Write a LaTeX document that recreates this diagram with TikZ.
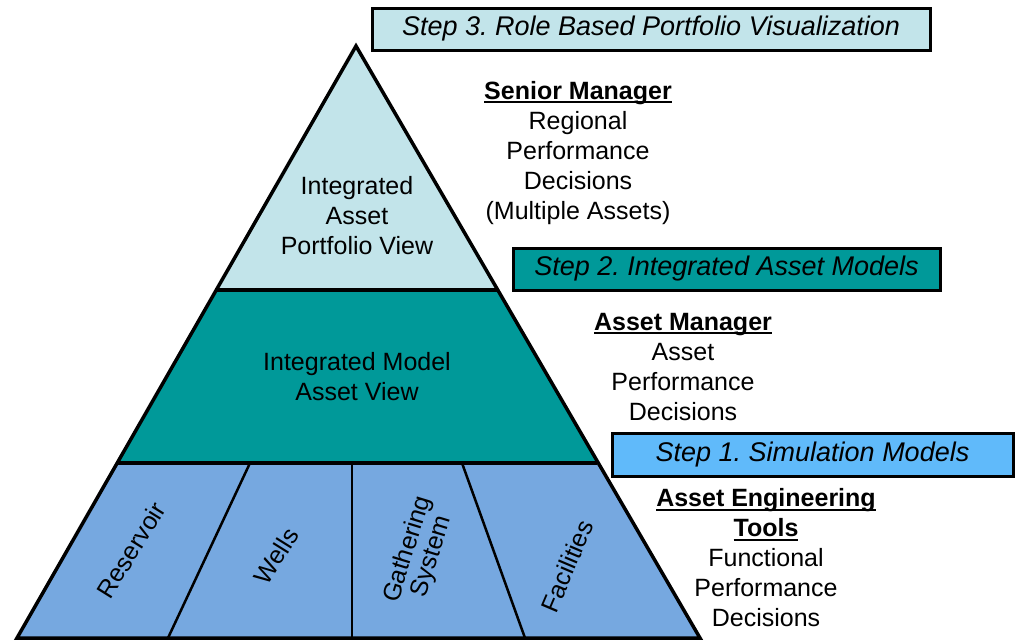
\documentclass[tikz,border=0pt]{standalone}
\usepackage{fontspec}
\setmainfont{Liberation Sans}
\frenchspacing
\definecolor{paleCyan}{RGB}{194,228,234}
\definecolor{tealBand}{RGB}{0,153,153}
\definecolor{toolBlue}{RGB}{118,168,224}
\definecolor{skyBlue}{RGB}{96,186,250}
% bold heading with a thick underline
\newcommand\headul[1]{\setbox0\hbox{\bfseries #1}\rlap{\rule[-4pt]{\wd0}{2pt}}\box0}
\begin{document}
\begin{tikzpicture}[x=1pt,y=-1pt,
  outline/.style={draw=black, line width=3.5pt, line join=miter},
  divider/.style={draw=black, line width=2.5pt},
  stepbox/.style={draw=black, line width=3pt, inner sep=0pt, anchor=center,
    font=\fontsize{27}{30}\selectfont\itshape},
  txt/.style={font=\fontsize{25}{30}\selectfont, align=center, inner sep=0pt},
  slanted/.style={font=\fontsize{25}{25}\selectfont, align=center, inner sep=0pt}
]
\useasboundingbox (0,0) rectangle (1015,643);

% pyramid corners
\coordinate (A) at (356,46);
\coordinate (L1) at (215,290);
\coordinate (R1) at (497,290);
\coordinate (L2) at (118,463);
\coordinate (R2) at (597,463);
\coordinate (L3) at (17,638);
\coordinate (R3) at (700,638);
% dividers of the base band
\coordinate (D1t) at (250,463);
\coordinate (D1b) at (168,638);
\coordinate (D2t) at (352,463);
\coordinate (D2b) at (352,638);
\coordinate (D3t) at (462,463);
\coordinate (D3b) at (525,638);

% band fills
\fill[paleCyan] (A) -- (R1) -- (L1) -- cycle;
\fill[tealBand] (L1) -- (R1) -- (R2) -- (L2) -- cycle;
\fill[toolBlue] (L2) -- (R2) -- (R3) -- (L3) -- cycle;

% outlines
\draw[divider] (D1t) -- (D1b);
\draw[divider] (D2t) -- (D2b);
\draw[divider] (D3t) -- (D3b);
\draw[outline] (L1) -- (R1);
\draw[outline] (L2) -- (R2);
\draw[outline] (A) -- (L3) -- (R3) -- cycle;

% band labels
\node[txt] (portfolio) at (357,216) {Integrated\\Asset\\Portfolio View};
\node[txt] (model) at (357,377) {Integrated Model\\Asset View};
\node[slanted, rotate=58] (reservoir) at (131,550) {Reservoir};
\node[slanted, rotate=58] (wells) at (276,556) {Wells};
\node[slanted, rotate=73] (gathering) at (420,553) {Gathering\\System};
\node[slanted, rotate=67] (facilities) at (567,566) {Facilities};

% step boxes
\node[stepbox, fill=paleCyan, minimum width=558pt, minimum height=42pt] (step3) at (651,29) {Step 3. Role Based Portfolio Visualization};
\node[stepbox, fill=tealBand, minimum width=427pt, minimum height=42pt] (step2) at (726.5,269) {Step 2. Integrated Asset Models};
\node[stepbox, fill=skyBlue, minimum width=401pt, minimum height=43pt] (step1) at (812.5,454.5) {Step 1. Simulation Models};

% role descriptions
\node[txt] (senior) at (578,153) {\headul{Senior Manager}\\Regional\\Performance\\Decisions\\(Multiple Assets)};
\node[txt] (assetmgr) at (683,367) {\headul{Asset Manager}\\Asset\\Performance\\Decisions};
\node[txt] (engtools) at (766,558) {\headul{Asset Engineering}\\\headul{Tools}\\Functional\\Performance\\Decisions};
\end{tikzpicture}
\end{document}
